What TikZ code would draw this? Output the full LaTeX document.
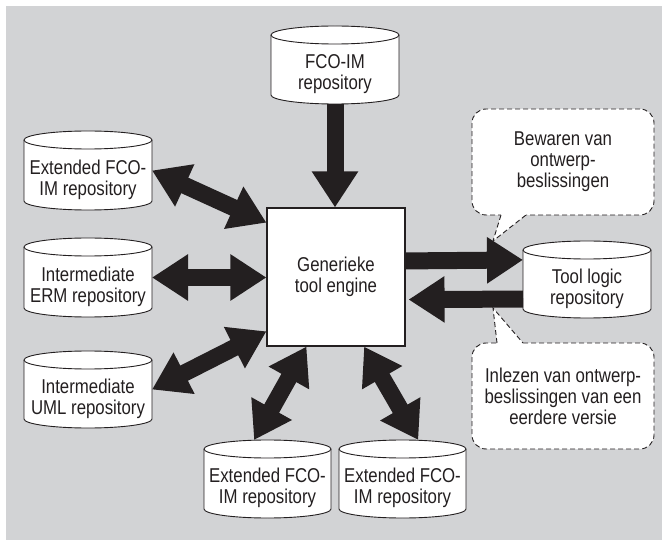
\documentclass[tikz,border=0pt]{standalone}
\usepackage{fontspec}
\setmainfont{Liberation Sans}[FakeStretch=0.84]
\usetikzlibrary{arrows.meta}

\definecolor{panel}{RGB}{210,211,213}
\definecolor{ink}{RGB}{35,31,32}

\tikzset{
  cylline/.style={draw=ink, line width=0.9pt, fill=white},
  reptext/.style={align=center, text=ink, font=\fontsize{20}{21}\selectfont, inner sep=0pt},
  anchorbox/.style={rectangle, inner sep=0pt, outer sep=0pt},
  enginebox/.style={reptext, draw=ink, line width=1.1pt, fill=white,
    minimum width=138pt, minimum height=138pt},
  note/.style={reptext, draw=ink, fill=white, line width=0.9pt,
    dash pattern=on 5pt off 3pt, rounded corners=14pt,
    minimum width=182pt, minimum height=106pt},
  notetail/.style={draw=ink, line width=0.9pt, dash pattern=on 5pt off 3pt},
  bigtip/.tip={Triangle[length=36pt,width=44pt]},
  flow/.style={draw=ink, line width=17pt, -bigtip},
  flowboth/.style={draw=ink, line width=17pt, bigtip-bigtip},
}

% repository cylinder: name, left, right, top, bottom, label
\newcommand{\repo}[6]{%
  \pgfmathsetmacro{\rrx}{(#3-#2)/2}
  \filldraw[cylline] (#2,#4+9) -- (#2,#5-9)
    arc[start angle=180,end angle=360,x radius=\rrx pt,y radius=9pt]
    -- (#3,#4+9)
    arc[start angle=0,end angle=180,x radius=\rrx pt,y radius=9pt] -- cycle;
  \draw[cylline, fill=none] (#2,#4+9)
    arc[start angle=180,end angle=360,x radius=\rrx pt,y radius=9pt];
  \node[anchorbox, minimum width={(#3-#2)*1pt}, minimum height={(#5-#4)*1pt}]
    (#1) at ({(#2+#3)/2},{(#4+#5)/2}) {};
  \node[reptext] (#1-text) at ({(#2+#3)/2},{(#4+18+#5)/2}) {#6};
}

\begin{document}
\begin{tikzpicture}[x=1pt, y=-1pt]
  \useasboundingbox (0,0) rectangle (662,540);
  \fill[panel] (6,6) rectangle (662,540);

  % repositories
  \repo{fco}{271}{399}{26}{104}{FCO-IM\\repository}
  \repo{extl}{24}{152}{131}{210}{Extended FCO-\\IM repository}
  \repo{erm}{24}{152}{238}{317}{Intermediate\\ERM repository}
  \repo{uml}{24}{152}{351}{428}{Intermediate\\UML repository}
  \repo{extb1}{204}{331}{440}{518}{Extended FCO-\\IM repository}
  \repo{extb2}{339}{466}{440}{518}{Extended FCO-\\IM repository}
  \repo{tool}{523}{651}{241}{318}{Tool logic\\repository}

  % central engine
  \node[enginebox] (engine) at (336,277) {Generieke\\tool engine};

  % speech bubbles
  \node[note] (note1) at (563,162) {Bewaren van\\ontwerp-\\beslissingen};
  \coordinate (tip1) at (493,241);
  \fill[white] (501,210) -- (501,215) -- (tip1) -- (526,215) -- (526,210) -- cycle;
  \draw[notetail] (501,215) -- (tip1) -- (526,215);

  \node[note] (note2) at (563,396) {Inlezen van ontwerp-\\beslissingen van een\\eerdere versie};
  \coordinate (tip2) at (493,308);
  \fill[white] (497,348) -- (497,343) -- (tip2) -- (523,343) -- (523,348) -- cycle;
  \draw[notetail] (497,343) -- (tip2) -- (523,343);

  % data flows
  \draw[flow] (fco.south) -- (fco.south |- engine.north);
  \draw[flowboth] (extl.east) -- (engine.142.5);
  \draw[flowboth] (erm.east) -- (erm.east -| engine.west);
  \draw[flowboth] (uml.east) -- (engine.218.6);
  \draw[flowboth] (extb1.109.1) -- (engine.247.2);
  \draw[flowboth] (extb2.68.3) -- (engine.292.8);
  \draw[flow] (engine.13.8) -- (tool.163.1);
  \draw[flow, shorten >=3pt] (tool.197.8) -- (engine.342.3);
\end{tikzpicture}
\end{document}
